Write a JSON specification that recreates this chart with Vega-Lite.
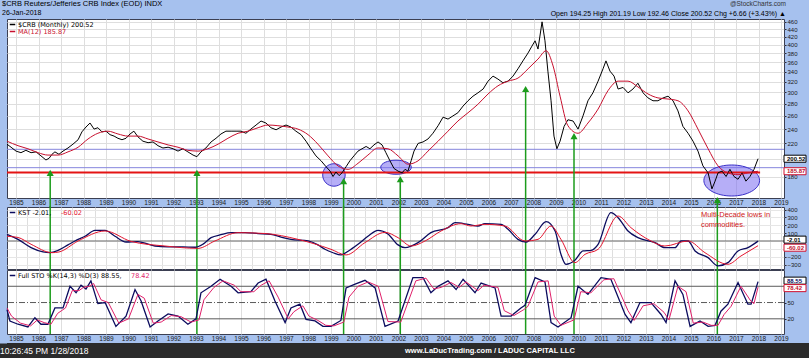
{
"$schema": "https://vega.github.io/schema/vega-lite/v6.json",
"background": "#a6c1ee",
"padding": 0,
"bounds": "flush",
"spacing": 1,
"title": {"text": "$CRB Reuters/Jefferies CRB Index (EOD) INDX", "subtitle": "26-Jan-2018", "anchor": "start", "frame": "bounds", "offset": -15, "dx": 2, "font": "Liberation Sans", "fontSize": 7.5, "fontWeight": "normal", "color": "#000000", "subtitleFont": "Liberation Sans", "subtitleFontSize": 7, "subtitleColor": "#000000", "subtitlePadding": 1},
"resolve": {"scale": {"x": "independent", "y": "independent", "color": "independent", "stroke": "independent", "fill": "independent"}},
"config": {
  "view": {"fill": "#ffffff", "stroke": "#3b3f52", "strokeWidth": 1},
  "axis": {"labelFont": "Liberation Sans", "labelColor": "#1a1a1a", "domainColor": "#2b2b3b", "tickColor": "#2b2b3b", "gridColor": "#dedede"},
  "legend": {"labelFont": "DejaVu Sans", "labelFontSize": 6.5, "orient": "top-left", "offset": 2, "padding": 0, "rowPadding": 0, "symbolType": "stroke", "symbolSize": 30, "symbolStrokeWidth": 1.5, "labelOffset": 2}
},
"datasets": {
"crb": [{"t":1984.6,"v":219},{"t":1984.78,"v":215},{"t":1985.0,"v":210},{"t":1985.22,"v":208},{"t":1985.44,"v":211},{"t":1985.67,"v":208},{"t":1985.89,"v":209},{"t":1986.11,"v":204},{"t":1986.33,"v":199},{"t":1986.47,"v":201},{"t":1986.6,"v":206},{"t":1986.73,"v":209},{"t":1986.91,"v":206},{"t":1987.09,"v":210},{"t":1987.31,"v":214},{"t":1987.53,"v":219},{"t":1987.76,"v":225},{"t":1987.93,"v":236},{"t":1988.11,"v":243},{"t":1988.29,"v":249},{"t":1988.47,"v":240},{"t":1988.64,"v":242},{"t":1988.82,"v":236},{"t":1989.0,"v":237},{"t":1989.18,"v":232},{"t":1989.36,"v":230},{"t":1989.53,"v":227},{"t":1989.71,"v":225},{"t":1989.89,"v":227},{"t":1990.07,"v":233},{"t":1990.24,"v":237},{"t":1990.42,"v":229},{"t":1990.64,"v":223},{"t":1990.87,"v":221},{"t":1991.09,"v":222},{"t":1991.31,"v":217},{"t":1991.53,"v":214},{"t":1991.76,"v":215},{"t":1991.98,"v":213},{"t":1992.2,"v":210},{"t":1992.42,"v":213},{"t":1992.64,"v":209},{"t":1992.87,"v":205},{"t":1993.04,"v":203},{"t":1993.22,"v":209},{"t":1993.44,"v":214},{"t":1993.67,"v":222},{"t":1993.89,"v":227},{"t":1994.11,"v":233},{"t":1994.33,"v":237},{"t":1994.56,"v":237},{"t":1994.78,"v":237},{"t":1995.0,"v":237},{"t":1995.22,"v":234},{"t":1995.44,"v":240},{"t":1995.67,"v":246},{"t":1995.89,"v":252},{"t":1996.11,"v":249},{"t":1996.33,"v":242},{"t":1996.56,"v":239},{"t":1996.78,"v":243},{"t":1997.0,"v":246},{"t":1997.22,"v":243},{"t":1997.44,"v":237},{"t":1997.67,"v":232},{"t":1997.89,"v":223},{"t":1998.11,"v":213},{"t":1998.33,"v":204},{"t":1998.56,"v":198},{"t":1998.78,"v":191},{"t":1998.96,"v":186},{"t":1999.09,"v":180},{"t":1999.22,"v":185},{"t":1999.36,"v":181},{"t":1999.49,"v":184},{"t":1999.67,"v":191},{"t":1999.84,"v":198},{"t":2000.02,"v":204},{"t":2000.2,"v":210},{"t":2000.38,"v":213},{"t":2000.56,"v":216},{"t":2000.73,"v":213},{"t":2000.91,"v":218},{"t":2001.09,"v":222},{"t":2001.27,"v":218},{"t":2001.44,"v":208},{"t":2001.62,"v":198},{"t":2001.8,"v":189},{"t":2001.98,"v":186},{"t":2002.16,"v":184},{"t":2002.29,"v":188},{"t":2002.42,"v":186},{"t":2002.56,"v":198},{"t":2002.69,"v":210},{"t":2002.87,"v":220},{"t":2003.09,"v":222},{"t":2003.31,"v":226},{"t":2003.53,"v":234},{"t":2003.76,"v":245},{"t":2003.98,"v":258},{"t":2004.2,"v":255},{"t":2004.42,"v":260},{"t":2004.64,"v":265},{"t":2004.87,"v":276},{"t":2005.09,"v":285},{"t":2005.31,"v":293},{"t":2005.53,"v":299},{"t":2005.76,"v":306},{"t":2005.98,"v":321},{"t":2006.2,"v":331},{"t":2006.42,"v":325},{"t":2006.64,"v":318},{"t":2006.87,"v":321},{"t":2007.09,"v":331},{"t":2007.31,"v":346},{"t":2007.53,"v":363},{"t":2007.76,"v":381},{"t":2007.93,"v":397},{"t":2008.07,"v":410},{"t":2008.2,"v":390},{"t":2008.38,"v":460},{"t":2008.51,"v":410},{"t":2008.64,"v":341},{"t":2008.78,"v":285},{"t":2008.91,"v":230},{"t":2009.04,"v":213},{"t":2009.18,"v":223},{"t":2009.36,"v":244},{"t":2009.53,"v":254},{"t":2009.76,"v":252},{"t":2009.98,"v":240},{"t":2010.2,"v":260},{"t":2010.42,"v":285},{"t":2010.64,"v":299},{"t":2010.87,"v":321},{"t":2011.09,"v":346},{"t":2011.22,"v":363},{"t":2011.4,"v":341},{"t":2011.58,"v":331},{"t":2011.76,"v":306},{"t":2011.98,"v":309},{"t":2012.2,"v":299},{"t":2012.42,"v":306},{"t":2012.64,"v":317},{"t":2012.87,"v":299},{"t":2013.09,"v":290},{"t":2013.31,"v":285},{"t":2013.53,"v":285},{"t":2013.76,"v":290},{"t":2013.98,"v":293},{"t":2014.2,"v":285},{"t":2014.42,"v":268},{"t":2014.64,"v":244},{"t":2014.87,"v":234},{"t":2015.09,"v":223},{"t":2015.31,"v":210},{"t":2015.53,"v":192},{"t":2015.76,"v":184},{"t":2015.93,"v":167},{"t":2016.07,"v":175},{"t":2016.2,"v":184},{"t":2016.38,"v":186},{"t":2016.56,"v":180},{"t":2016.73,"v":188},{"t":2016.91,"v":180},{"t":2017.09,"v":177},{"t":2017.27,"v":184},{"t":2017.44,"v":175},{"t":2017.62,"v":180},{"t":2017.8,"v":188},{"t":2017.98,"v":200.52}],
"ma": [{"t":1984.6,"v":223},{"t":1985.09,"v":217},{"t":1985.53,"v":213},{"t":1985.98,"v":208},{"t":1986.42,"v":205},{"t":1986.87,"v":205},{"t":1987.31,"v":209},{"t":1987.76,"v":215},{"t":1988.2,"v":226},{"t":1988.64,"v":234},{"t":1989.09,"v":237},{"t":1989.53,"v":233},{"t":1989.98,"v":230},{"t":1990.42,"v":230},{"t":1990.87,"v":226},{"t":1991.31,"v":222},{"t":1991.76,"v":218},{"t":1992.2,"v":215},{"t":1992.64,"v":211},{"t":1993.09,"v":210},{"t":1993.53,"v":213},{"t":1993.98,"v":219},{"t":1994.42,"v":227},{"t":1994.87,"v":234},{"t":1995.31,"v":237},{"t":1995.76,"v":242},{"t":1996.2,"v":246},{"t":1996.64,"v":245},{"t":1997.09,"v":243},{"t":1997.53,"v":240},{"t":1997.98,"v":232},{"t":1998.42,"v":219},{"t":1998.87,"v":204},{"t":1999.31,"v":192},{"t":1999.76,"v":188},{"t":2000.2,"v":195},{"t":2000.64,"v":205},{"t":2001.09,"v":214},{"t":2001.53,"v":213},{"t":2001.98,"v":204},{"t":2002.42,"v":194},{"t":2002.87,"v":198},{"t":2003.31,"v":210},{"t":2003.76,"v":223},{"t":2004.2,"v":237},{"t":2004.64,"v":252},{"t":2005.09,"v":265},{"t":2005.53,"v":279},{"t":2005.98,"v":297},{"t":2006.42,"v":312},{"t":2006.87,"v":321},{"t":2007.31,"v":327},{"t":2007.76,"v":346},{"t":2008.2,"v":367},{"t":2008.56,"v":386},{"t":2008.87,"v":352},{"t":2009.18,"v":293},{"t":2009.53,"v":245},{"t":2009.98,"v":234},{"t":2010.42,"v":249},{"t":2010.87,"v":271},{"t":2011.31,"v":303},{"t":2011.76,"v":321},{"t":2012.2,"v":321},{"t":2012.64,"v":310},{"t":2013.09,"v":297},{"t":2013.53,"v":290},{"t":2013.98,"v":288},{"t":2014.42,"v":285},{"t":2014.87,"v":268},{"t":2015.31,"v":240},{"t":2015.76,"v":213},{"t":2016.2,"v":192},{"t":2016.64,"v":184},{"t":2017.09,"v":182},{"t":2017.53,"v":184},{"t":2017.98,"v":185.87}],
"kst": [{"t":1984.6,"v":85},{"t":1985.09,"v":20},{"t":1985.67,"v":-85},{"t":1986.2,"v":-140},{"t":1986.51,"v":-149},{"t":1986.87,"v":-120},{"t":1987.31,"v":-50},{"t":1987.62,"v":0},{"t":1988.07,"v":60},{"t":1988.51,"v":136},{"t":1988.96,"v":136},{"t":1989.4,"v":60},{"t":1989.89,"v":-13},{"t":1990.42,"v":-8},{"t":1990.87,"v":-40},{"t":1991.18,"v":-64},{"t":1991.76,"v":-75},{"t":1992.42,"v":-76},{"t":1992.96,"v":-80},{"t":1993.31,"v":-40},{"t":1993.67,"v":42},{"t":1994.11,"v":80},{"t":1994.56,"v":106},{"t":1995.18,"v":106},{"t":1995.76,"v":95},{"t":1996.33,"v":85},{"t":1996.78,"v":50},{"t":1997.22,"v":21},{"t":1997.98,"v":0},{"t":1998.42,"v":-50},{"t":1998.73,"v":-106},{"t":1999.09,"v":-150},{"t":1999.44,"v":-178},{"t":1999.76,"v":-130},{"t":2000.2,"v":-42},{"t":2000.64,"v":60},{"t":2001.09,"v":136},{"t":2001.53,"v":90},{"t":2001.98,"v":-50},{"t":2002.29,"v":-85},{"t":2002.87,"v":-21},{"t":2003.44,"v":106},{"t":2004.2,"v":170},{"t":2004.51,"v":233},{"t":2005.09,"v":212},{"t":2005.53,"v":191},{"t":2005.84,"v":220},{"t":2006.56,"v":212},{"t":2006.87,"v":149},{"t":2007.31,"v":21},{"t":2007.67,"v":-13},{"t":2008.07,"v":85},{"t":2008.56,"v":246},{"t":2008.96,"v":127},{"t":2009.22,"v":-170},{"t":2009.44,"v":-297},{"t":2009.84,"v":-246},{"t":2010.2,"v":-127},{"t":2010.56,"v":-119},{"t":2010.87,"v":-42},{"t":2011.44,"v":361},{"t":2011.76,"v":297},{"t":2012.2,"v":127},{"t":2012.64,"v":42},{"t":2013.4,"v":-21},{"t":2013.84,"v":-85},{"t":2014.29,"v":-85},{"t":2014.56,"v":0},{"t":2014.87,"v":0},{"t":2015.18,"v":-127},{"t":2015.76,"v":-212},{"t":2016.2,"v":-318},{"t":2016.64,"v":-276},{"t":2017.09,"v":-127},{"t":2017.53,"v":-85},{"t":2017.98,"v":-2.01}],
"kstsig": [{"t":1984.6,"v":60},{"t":1985.09,"v":45},{"t":1985.67,"v":-42},{"t":1986.6,"v":-149},{"t":1986.91,"v":-140},{"t":1987.76,"v":0},{"t":1988.96,"v":127},{"t":1990.11,"v":-5},{"t":1991.62,"v":-64},{"t":1993.09,"v":-94},{"t":1993.84,"v":0},{"t":1994.87,"v":106},{"t":1996.07,"v":95},{"t":1997.53,"v":21},{"t":1999.0,"v":-106},{"t":1999.67,"v":-178},{"t":2000.51,"v":-21},{"t":2001.4,"v":110},{"t":2001.98,"v":42},{"t":2002.56,"v":-64},{"t":2003.18,"v":0},{"t":2003.89,"v":127},{"t":2004.78,"v":220},{"t":2005.22,"v":191},{"t":2005.84,"v":212},{"t":2006.73,"v":191},{"t":2007.62,"v":0},{"t":2008.2,"v":21},{"t":2008.78,"v":191},{"t":2009.22,"v":21},{"t":2009.84,"v":-276},{"t":2010.29,"v":-170},{"t":2010.87,"v":-106},{"t":2011.76,"v":318},{"t":2012.33,"v":170},{"t":2013.22,"v":0},{"t":2013.84,"v":-64},{"t":2014.87,"v":0},{"t":2015.62,"v":-149},{"t":2016.64,"v":-297},{"t":2017.22,"v":-191},{"t":2017.98,"v":-60.02}],
"stok": [{"t":1984.6,"v":37},{"t":1984.73,"v":16},{"t":1985.09,"v":10},{"t":1985.53,"v":5},{"t":1985.84,"v":22},{"t":1986.11,"v":10},{"t":1986.42,"v":10},{"t":1986.73,"v":40},{"t":1987.09,"v":40},{"t":1987.4,"v":80},{"t":1987.67,"v":68},{"t":1987.89,"v":82},{"t":1988.11,"v":75},{"t":1988.33,"v":90},{"t":1988.64,"v":48},{"t":1988.96,"v":50},{"t":1989.44,"v":6},{"t":1989.89,"v":25},{"t":1990.29,"v":74},{"t":1990.56,"v":53},{"t":1990.96,"v":5},{"t":1991.31,"v":16},{"t":1991.76,"v":29},{"t":1992.2,"v":25},{"t":1992.64,"v":10},{"t":1993.0,"v":20},{"t":1993.22,"v":68},{"t":1993.67,"v":80},{"t":1994.07,"v":93},{"t":1994.56,"v":80},{"t":1994.87,"v":68},{"t":1995.44,"v":70},{"t":1995.76,"v":86},{"t":1996.11,"v":93},{"t":1996.51,"v":53},{"t":1996.96,"v":13},{"t":1997.22,"v":40},{"t":1997.62,"v":47},{"t":1997.89,"v":19},{"t":1998.29,"v":16},{"t":1998.64,"v":6},{"t":1999.0,"v":6},{"t":1999.44,"v":17},{"t":1999.67,"v":77},{"t":2000.07,"v":84},{"t":2000.51,"v":91},{"t":2000.96,"v":77},{"t":2001.4,"v":6},{"t":2001.98,"v":16},{"t":2002.64,"v":96},{"t":2003.09,"v":96},{"t":2003.44,"v":68},{"t":2003.76,"v":80},{"t":2004.2,"v":90},{"t":2004.56,"v":74},{"t":2004.87,"v":93},{"t":2005.4,"v":68},{"t":2005.67,"v":86},{"t":2006.29,"v":77},{"t":2006.56,"v":25},{"t":2007.0,"v":25},{"t":2007.44,"v":40},{"t":2007.62,"v":45},{"t":2008.07,"v":96},{"t":2008.51,"v":88},{"t":2008.78,"v":13},{"t":2009.09,"v":5},{"t":2009.67,"v":22},{"t":2009.98,"v":80},{"t":2010.42,"v":65},{"t":2011.0,"v":96},{"t":2011.44,"v":93},{"t":2012.07,"v":28},{"t":2012.33,"v":13},{"t":2012.73,"v":50},{"t":2013.22,"v":50},{"t":2013.67,"v":28},{"t":2013.89,"v":13},{"t":2014.29,"v":90},{"t":2014.64,"v":65},{"t":2014.96,"v":6},{"t":2015.4,"v":16},{"t":2015.76,"v":6},{"t":2016.07,"v":8},{"t":2016.33,"v":34},{"t":2016.64,"v":47},{"t":2017.09,"v":87},{"t":2017.53,"v":47},{"t":2017.67,"v":47},{"t":2017.98,"v":88.55}],
"stod": [{"t":1984.6,"v":40},{"t":1984.8,"v":25},{"t":1985.2,"v":12},{"t":1985.65,"v":7},{"t":1985.95,"v":18},{"t":1986.25,"v":13},{"t":1986.55,"v":10},{"t":1986.85,"v":30},{"t":1987.2,"v":40},{"t":1987.5,"v":72},{"t":1987.8,"v":72},{"t":1988.0,"v":78},{"t":1988.25,"v":80},{"t":1988.45,"v":85},{"t":1988.78,"v":55},{"t":1989.1,"v":50},{"t":1989.57,"v":12},{"t":1990.0,"v":20},{"t":1990.42,"v":65},{"t":1990.7,"v":58},{"t":1991.1,"v":12},{"t":1991.45,"v":14},{"t":1991.9,"v":26},{"t":1992.33,"v":24},{"t":1992.78,"v":14},{"t":1993.13,"v":18},{"t":1993.35,"v":55},{"t":1993.8,"v":78},{"t":1994.2,"v":90},{"t":1994.7,"v":82},{"t":1995.0,"v":70},{"t":1995.57,"v":70},{"t":1995.9,"v":82},{"t":1996.25,"v":90},{"t":1996.65,"v":60},{"t":1997.1,"v":20},{"t":1997.35,"v":33},{"t":1997.75,"v":44},{"t":1998.02,"v":25},{"t":1998.42,"v":17},{"t":1998.77,"v":8},{"t":1999.13,"v":7},{"t":1999.57,"v":14},{"t":1999.8,"v":60},{"t":2000.2,"v":80},{"t":2000.65,"v":88},{"t":2001.1,"v":80},{"t":2001.53,"v":15},{"t":2002.1,"v":14},{"t":2002.77,"v":90},{"t":2003.22,"v":95},{"t":2003.57,"v":75},{"t":2003.9,"v":78},{"t":2004.33,"v":87},{"t":2004.7,"v":78},{"t":2005.0,"v":88},{"t":2005.53,"v":72},{"t":2005.8,"v":82},{"t":2006.42,"v":78},{"t":2006.7,"v":35},{"t":2007.13,"v":26},{"t":2007.57,"v":37},{"t":2007.75,"v":43},{"t":2008.2,"v":88},{"t":2008.65,"v":90},{"t":2008.92,"v":25},{"t":2009.22,"v":8},{"t":2009.8,"v":18},{"t":2010.1,"v":70},{"t":2010.55,"v":68},{"t":2011.13,"v":92},{"t":2011.57,"v":94},{"t":2012.2,"v":35},{"t":2012.47,"v":17},{"t":2012.87,"v":44},{"t":2013.35,"v":48},{"t":2013.8,"v":32},{"t":2014.02,"v":18},{"t":2014.42,"v":80},{"t":2014.78,"v":70},{"t":2015.1,"v":12},{"t":2015.53,"v":14},{"t":2015.9,"v":8},{"t":2016.2,"v":8},{"t":2016.47,"v":28},{"t":2016.78,"v":43},{"t":2017.22,"v":80},{"t":2017.67,"v":52},{"t":2017.8,"v":48},{"t":2017.98,"v":78.42}],
"arrows": [{"t":1986.52,"v":184},{"t":1993.04,"v":184},{"t":1999.56,"v":175},{"t":2002.08,"v":177},{"t":2007.65,"v":306},{"t":2009.8,"v":230},{"t":2016.17,"v":156}]
},
"vconcat": [
{
 "width": 777, "height": 179,
 "title": {"text": "@StockCharts.com", "subtitle": "Open 194.25  High 201.19  Low 192.46  Close 200.52  Chg +6.66 (+3.43%) ▲", "anchor": "end", "frame": "group", "offset": 2, "dx": 2, "font": "Liberation Sans", "fontSize": 6.5, "fontWeight": "normal", "color": "#333333", "subtitleFont": "Liberation Sans", "subtitleFontSize": 7, "subtitleColor": "#000000", "subtitlePadding": 2},
 "encoding": {"y": {"field": "v", "type": "quantitative", "scale": {"type": "log", "domain": [158, 468], "nice": false}, "axis": {"orient": "right", "title": null, "values": [180,200,220,240,260,280,300,320,340,360,380,400,420,440,460], "format": "d", "labelExpr": "datum.value == 200 ? '' : datum.label", "labelFontSize": 6, "labelPadding": 1, "tickSize": 2, "grid": true, "domain": false, "labelOverlap": false}}},
 "layer": [
  {"data": {"values": [{"v": 212.3}, {"v": 189.9}]}, "mark": {"type": "rule", "color": "#8585dd", "strokeWidth": 1}, "encoding": {"y": {"field": "v", "type": "quantitative"}}},
  {"encoding": {"x": {"field": "t", "type": "quantitative", "scale": {"domain": [1984.6, 2019.133], "nice": false, "zero": false}, "axis": {"title": null, "values": [1985,1985.5,1986,1986.5,1987,1987.5,1988,1988.5,1989,1989.5,1990,1990.5,1991,1991.5,1992,1992.5,1993,1993.5,1994,1994.5,1995,1995.5,1996,1996.5,1997,1997.5,1998,1998.5,1999,1999.5,2000,2000.5,2001,2001.5,2002,2002.5,2003,2003.5,2004,2004.5,2005,2005.5,2006,2006.5,2007,2007.5,2008,2008.5,2009,2009.5,2010,2010.5,2011,2011.5,2012,2012.5,2013,2013.5,2014,2014.5,2015,2015.5,2016,2016.5,2017,2017.5,2018,2018.5,2019], "format": "d", "labelExpr": "datum.value % 1 === 0 ? datum.label : ''", "labelFontSize": 6.5, "labelPadding": 1, "ticks": false, "domain": false, "grid": true, "labelOverlap": false, "labelFlush": false, "labelBound": false, "labelAlign": "center"}}},
   "layer": [
    {"data": {"values": [{"t": 1999.13, "v": 181.7}]}, "mark": {"type": "point", "shape": "M-1,0A1,1,0,1,1,1,0A1,1,0,1,1,-1,0Z", "size": 506, "filled": true, "fill": "#7a6cf0", "fillOpacity": 0.55, "stroke": "#3a30c8", "strokeWidth": 1, "strokeOpacity": 1, "opacity": 1}},
    {"data": {"values": [{"t": 2001.89, "v": 190.4}]}, "mark": {"type": "point", "shape": "M-1,0A1,0.46,0,1,1,1,0A1,0.46,0,1,1,-1,0Z", "size": 936, "filled": true, "fill": "#7a6cf0", "fillOpacity": 0.55, "stroke": "#3a30c8", "strokeWidth": 1, "strokeOpacity": 1, "opacity": 1}},
    {"data": {"values": [{"t": 2016.81, "v": 175.7}]}, "mark": {"type": "point", "shape": "M-1,0A1,0.557,0,1,1,1,0A1,0.557,0,1,1,-1,0Z", "size": 3102, "filled": true, "fill": "#7a6cf0", "fillOpacity": 0.55, "stroke": "#3a30c8", "strokeWidth": 1, "strokeOpacity": 1, "opacity": 1}},
    {"data": {"values": [{"t": 1984.6, "t2": 2018.07, "v": 184.4}]}, "mark": {"type": "rule", "color": "#e41414", "strokeWidth": 2}, "encoding": {"x2": {"field": "t2"}}},
    {"data": {"name": "crb"}, "mark": {"type": "line", "strokeWidth": 1}, "encoding": {"color": {"datum": "$CRB (Monthly) 200.52", "scale": {"domain": ["$CRB (Monthly) 200.52", "MA(12) 185.87"], "range": ["#000000", "#c8102e"]}, "legend": {"title": null, "labelColor": {"expr": "datum.label === 'MA(12) 185.87' ? '#c8102e' : '#000000'"}}}}},
    {"data": {"name": "ma"}, "mark": {"type": "line", "strokeWidth": 1, "interpolate": "monotone"}, "encoding": {"color": {"datum": "MA(12) 185.87"}}},
    {"data": {"name": "arrows"}, "mark": {"type": "rule", "color": "#1c9c1c", "strokeWidth": 1.5}, "encoding": {"y2": {"datum": 149.5}}},
    {"data": {"name": "arrows"}, "mark": {"type": "point", "shape": "triangle-up", "size": 50, "filled": true, "color": "#1c9c1c", "opacity": 1}}
   ]},
  {"data": {"values": [{"v": 200.52}]}, "mark": {"type": "point", "shape": "M0,-0.32H2V0.32H0Z", "size": 484, "x": "width", "filled": true, "fill": "#ffffff", "stroke": "#000000", "strokeWidth": 1, "opacity": 1}},
  {"data": {"values": [{"v": 185.87}]}, "mark": {"type": "point", "shape": "M0,-0.32H2V0.32H0Z", "size": 484, "x": "width", "filled": true, "fill": "#ffffff", "stroke": "#d0102e", "strokeWidth": 1, "opacity": 1}},
  {"data": {"values": [{"v": 200.52, "label": "200.52"}]}, "mark": {"type": "text", "x": "width", "dx": 3, "align": "left", "baseline": "middle", "fontSize": 6, "fontWeight": "bold", "font": "Liberation Sans", "color": "#000000"}, "encoding": {"text": {"field": "label"}}},
  {"data": {"values": [{"v": 185.87, "label": "185.87"}]}, "mark": {"type": "text", "x": "width", "dx": 3, "align": "left", "baseline": "middle", "fontSize": 6, "fontWeight": "bold", "font": "Liberation Sans", "color": "#c0102e"}, "encoding": {"text": {"field": "label"}}}
 ]
},
{
 "width": 10, "height": 7,
 "view": {"fill": "transparent", "stroke": "transparent"},
 "data": {"values": [{"gap": 1}]},
 "mark": {"type": "text"},
 "encoding": {"text": {"value": ""}}
},
{
 "width": 777, "height": 62,
 "encoding": {"y": {"field": "v", "type": "quantitative", "scale": {"domain": [-357, 433], "nice": false, "zero": false}, "axis": {"orient": "right", "title": null, "values": [-300,-200,-100,0,100,200,300,400], "format": "d", "labelExpr": "datum.value == 0 || datum.value == -100 ? '' : datum.label", "labelFontSize": 6, "labelPadding": 1, "tickSize": 2, "grid": true, "gridColor": "#e6e6e6", "domain": false, "labelOverlap": false}}},
 "layer": [
  {"data": {"values": [{"v": 0}]}, "mark": {"type": "rule", "color": "#6a6a6a", "strokeWidth": 1}, "encoding": {"y": {"field": "v", "type": "quantitative"}}},
  {"encoding": {"x": {"field": "t", "type": "quantitative", "scale": {"domain": [1984.6, 2019.133], "nice": false, "zero": false}, "axis": {"title": null, "values": [1985,1985.5,1986,1986.5,1987,1987.5,1988,1988.5,1989,1989.5,1990,1990.5,1991,1991.5,1992,1992.5,1993,1993.5,1994,1994.5,1995,1995.5,1996,1996.5,1997,1997.5,1998,1998.5,1999,1999.5,2000,2000.5,2001,2001.5,2002,2002.5,2003,2003.5,2004,2004.5,2005,2005.5,2006,2006.5,2007,2007.5,2008,2008.5,2009,2009.5,2010,2010.5,2011,2011.5,2012,2012.5,2013,2013.5,2014,2014.5,2015,2015.5,2016,2016.5,2017,2017.5,2018,2018.5,2019], "labels": false, "ticks": false, "domain": false, "grid": true}}},
   "layer": [
    {"data": {"name": "arrows"}, "mark": {"type": "rule", "color": "#1c9c1c", "strokeWidth": 1.5}, "encoding": {"y": {"datum": 445}, "y2": {"datum": -372}}},
    {"data": {"name": "kst"}, "mark": {"type": "line", "strokeWidth": 1.3, "interpolate": "monotone"}, "encoding": {"color": {"datum": "KST -2.01,", "scale": {"domain": ["KST -2.01,", "-60.02"], "range": ["#0b0b5e", "#e4142e"]}, "legend": {"title": null, "direction": "horizontal", "columnPadding": -6, "labelColor": {"expr": "datum.label === '-60.02' ? '#e4142e' : '#000000'"}, "symbolOpacity": {"expr": "datum.label === '-60.02' ? 0 : 1"}}}}},
    {"data": {"name": "kstsig"}, "mark": {"type": "line", "strokeWidth": 1, "interpolate": "monotone"}, "encoding": {"color": {"datum": "-60.02"}}},
    {"data": {"values": [{"t": 2015.44, "v": 382, "note": "Multi-Decade lows in\ncommodities."}]}, "mark": {"type": "text", "align": "left", "baseline": "top", "lineBreak": "\n", "fontSize": 7.5, "color": "#d01818", "font": "Liberation Sans", "lineHeight": 9.5}, "encoding": {"text": {"field": "note"}}}
   ]},
  {"data": {"values": [{"v": -2.01}]}, "mark": {"type": "point", "shape": "M0,-0.32H2V0.32H0Z", "size": 484, "x": "width", "yOffset": -1.5, "filled": true, "fill": "#ffffff", "stroke": "#000000", "strokeWidth": 1, "opacity": 1}},
  {"data": {"values": [{"v": -60.02}]}, "mark": {"type": "point", "shape": "M0,-0.32H2V0.32H0Z", "size": 484, "x": "width", "yOffset": 2, "filled": true, "fill": "#ffffff", "stroke": "#d0102e", "strokeWidth": 1, "opacity": 1}},
  {"data": {"values": [{"v": -2.01, "label": "-2.01"}]}, "mark": {"type": "text", "x": "width", "dx": 3, "dy": -1.5, "align": "left", "baseline": "middle", "fontSize": 6, "fontWeight": "bold", "font": "Liberation Sans", "color": "#000000"}, "encoding": {"text": {"field": "label"}}},
  {"data": {"values": [{"v": -60.02, "label": "-60.02"}]}, "mark": {"type": "text", "x": "width", "dx": 3, "dy": 2, "align": "left", "baseline": "middle", "fontSize": 6, "fontWeight": "bold", "font": "Liberation Sans", "color": "#c0102e"}, "encoding": {"text": {"field": "label"}}}
 ]
},
{
 "width": 777, "height": 64,
 "encoding": {"y": {"field": "v", "type": "quantitative", "scale": {"domain": [-8, 110], "nice": false, "zero": false}, "axis": {"orient": "right", "title": null, "values": [20, 50, 80], "format": "d", "labelExpr": "datum.value == 80 ? '' : datum.label", "labelFontSize": 6, "labelPadding": 1, "tickSize": 2, "grid": false, "domain": false, "labelOverlap": false}}},
 "layer": [
  {"data": {"values": [{"v": 80}, {"v": 20}]}, "mark": {"type": "rule", "color": "#5a5a5a", "strokeWidth": 1}, "encoding": {"y": {"field": "v", "type": "quantitative"}}},
  {"data": {"values": [{"v": 50}]}, "mark": {"type": "rule", "color": "#5a5a5a", "strokeWidth": 1, "strokeDash": [6, 2, 1, 2]}, "encoding": {"y": {"field": "v", "type": "quantitative"}}},
  {"encoding": {"x": {"field": "t", "type": "quantitative", "scale": {"domain": [1984.6, 2019.133], "nice": false, "zero": false}, "axis": {"title": null, "values": [1985,1985.5,1986,1986.5,1987,1987.5,1988,1988.5,1989,1989.5,1990,1990.5,1991,1991.5,1992,1992.5,1993,1993.5,1994,1994.5,1995,1995.5,1996,1996.5,1997,1997.5,1998,1998.5,1999,1999.5,2000,2000.5,2001,2001.5,2002,2002.5,2003,2003.5,2004,2004.5,2005,2005.5,2006,2006.5,2007,2007.5,2008,2008.5,2009,2009.5,2010,2010.5,2011,2011.5,2012,2012.5,2013,2013.5,2014,2014.5,2015,2015.5,2016,2016.5,2017,2017.5,2018,2018.5,2019], "format": "d", "labelExpr": "datum.value % 1 === 0 ? datum.label : ''", "labelFontSize": 6.5, "labelPadding": 1, "ticks": false, "domain": false, "grid": true, "labelOverlap": false, "labelFlush": false, "labelBound": false, "labelAlign": "center"}}},
   "layer": [
    {"data": {"name": "arrows"}, "mark": {"type": "rule", "color": "#1c9c1c", "strokeWidth": 1.5}, "encoding": {"y": {"datum": 110}, "y2": {"datum": -8}}},
    {"data": {"name": "stok"}, "mark": {"type": "line", "strokeWidth": 1.3}, "encoding": {"color": {"datum": "Full STO %K(14,3) %D(3) 88.55,", "scale": {"domain": ["Full STO %K(14,3) %D(3) 88.55,", "78.42"], "range": ["#0b0b5e", "#e0206a"]}, "legend": {"title": null, "direction": "horizontal", "columnPadding": -6, "labelColor": {"expr": "datum.label === '78.42' ? '#e0206a' : '#000000'"}, "symbolOpacity": {"expr": "datum.label === '78.42' ? 0 : 1"}}}}},
    {"data": {"name": "stod"}, "mark": {"type": "line", "strokeWidth": 1}, "encoding": {"color": {"datum": "78.42"}}}
   ]},
  {"data": {"values": [{"v": 88.55}]}, "mark": {"type": "point", "shape": "M0,-0.32H2V0.32H0Z", "size": 484, "x": "width", "yOffset": -1, "filled": true, "fill": "#ffffff", "stroke": "#000000", "strokeWidth": 1, "opacity": 1}},
  {"data": {"values": [{"v": 78.42}]}, "mark": {"type": "point", "shape": "M0,-0.32H2V0.32H0Z", "size": 484, "x": "width", "yOffset": 1, "filled": true, "fill": "#ffffff", "stroke": "#d0102e", "strokeWidth": 1, "opacity": 1}},
  {"data": {"values": [{"v": 88.55, "label": "88.55"}]}, "mark": {"type": "text", "x": "width", "dx": 3, "dy": -1, "align": "left", "baseline": "middle", "fontSize": 6, "fontWeight": "bold", "font": "Liberation Sans", "color": "#0b0b5e"}, "encoding": {"text": {"field": "label"}}},
  {"data": {"values": [{"v": 78.42, "label": "78.42"}]}, "mark": {"type": "text", "x": "width", "dx": 3, "dy": 1, "align": "left", "baseline": "middle", "fontSize": 6, "fontWeight": "bold", "font": "Liberation Sans", "color": "#c0102e"}, "encoding": {"text": {"field": "label"}}}
 ]
},
{
 "width": 10, "height": 7,
 "view": {"fill": "transparent", "stroke": "transparent"},
 "data": {"values": [{"gap": 1}]},
 "mark": {"type": "text"},
 "encoding": {"text": {"value": ""}}
},
{
 "width": 802, "height": 16,
 "view": {"fill": "#2b2b2b", "stroke": null},
 "encoding": {
  "x": {"field": "item", "type": "nominal", "scale": {"type": "band", "domain": ["time", "site"], "paddingInner": 0, "paddingOuter": 0}, "axis": null, "bandPosition": 0},
  "y": {"datum": "footer", "type": "nominal", "axis": {"title": null, "labels": false, "ticks": false, "grid": false, "domainColor": "#2b2b2b", "domainWidth": 18}},
  "text": {"field": "label"}
 },
 "layer": [
  {"data": {"values": [{"item": "time", "label": "10:26:45 PM 1/28/2018"}]}, "mark": {"type": "text", "align": "left", "baseline": "middle", "dx": -7, "color": "#ffffff", "font": "Liberation Sans", "fontSize": 8.5, "fontWeight": "normal"}},
  {"data": {"values": [{"item": "site", "label": "www.LaDucTrading.com / LADUC CAPITAL LLC"}]}, "mark": {"type": "text", "align": "left", "baseline": "middle", "dx": -3, "color": "#ffffff", "font": "Liberation Sans", "fontSize": 7.5, "fontWeight": "bold"}}
 ]
}
]
}
